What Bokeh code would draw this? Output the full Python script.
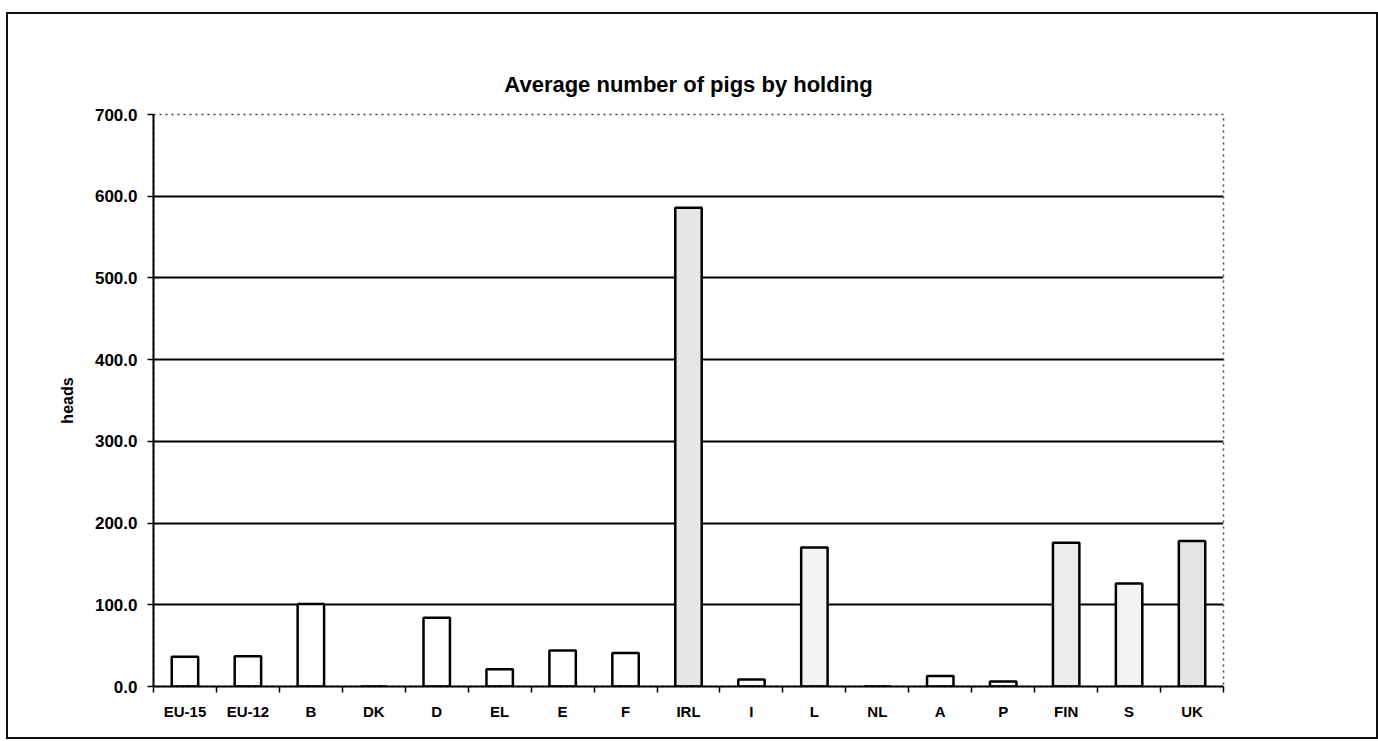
import numpy as np
from bokeh.plotting import figure
from bokeh.models import ColumnDataSource, FixedTicker, Range1d, NumeralTickFormatter
from bokeh.embed import file_html
from bokeh.resources import INLINE

# ---- data ----
categories = ["EU-15", "EU-12", "B", "DK", "D", "EL", "E", "F", "IRL", "I",
              "L", "NL", "A", "P", "FIN", "S", "UK"]
heads = [36.5, 37.0, 101.0, 0.0, 84.0, 21.0, 44.0, 41.0, 586.0, 8.5,
         170.0, 0.0, 13.0, 6.0, 176.0, 126.0, 178.0]
y_ticks = [0, 100, 200, 300, 400, 500, 600, 700]

# bar shading (style)
shade = {"IRL": "#e6e6e6", "FIN": "#ececec", "UK": "#e3e3e3", "L": "#f3f3f3", "S": "#f3f3f3"}
fills = [shade.get(c, "#ffffff") for c in categories]

n = len(categories)
xs = np.arange(n) + 0.5
src = ColumnDataSource(dict(x=xs, top=heads, cat=categories, fill=fills))

FONT = "Liberation Sans"

p = figure(width=1372, height=727, output_backend="svg", toolbar_location=None,
           x_range=Range1d(0, n), y_range=Range1d(0, 700),
           title="Average number of pigs by holding",
           min_border_left=145, min_border_right=157, min_border_top=100,
           min_border_bottom=55,
           styles={"border": "2px solid #111", "margin-left": "6px", "margin-top": "12px"})

p.title.align = "center"
p.title.text_font = FONT
p.title.text_font_style = "bold"
p.title.text_font_size = "22px"
p.title.text_color = "#000000"
p.title.standoff = 36

p.vbar(x="x", top="top", width=0.42, bottom=0, source=src,
       fill_color="fill", line_color="#000000", line_width=2.5)

# x axis: labels at centres, ticks at boundaries
xa = p.xaxis[0]
xa.ticker = FixedTicker(ticks=list(xs), minor_ticks=list(range(n + 1)))
xa.major_label_overrides = {float(x): c for x, c in zip(xs, categories)}
xa.major_tick_line_color = None
xa.minor_tick_line_color = "#000000"
xa.minor_tick_line_width = 1.5
xa.minor_tick_out = 6
xa.minor_tick_in = 0
xa.axis_line_color = "#000000"
xa.axis_line_width = 2
xa.major_label_text_font = FONT
xa.major_label_text_font_style = "bold"
xa.major_label_text_font_size = "15px"
xa.major_label_text_color = "#000000"
xa.major_label_standoff = 10

ya = p.yaxis[0]
ya.ticker = FixedTicker(ticks=y_ticks, minor_ticks=[])
ya.formatter = NumeralTickFormatter(format="0.0")
ya.axis_line_color = "#000000"
ya.axis_line_width = 2
ya.major_tick_line_color = "#000000"
ya.major_tick_line_width = 1.5
ya.major_tick_out = 6
ya.major_tick_in = 0
ya.minor_tick_line_color = None
ya.major_label_text_font = FONT
ya.major_label_text_font_style = "bold"
ya.major_label_text_font_size = "17px"
ya.major_label_text_color = "#000000"
ya.major_label_standoff = 10
ya.axis_label = "heads"
ya.axis_label_text_font = FONT
ya.axis_label_text_font_style = "bold"
ya.axis_label_text_font_size = "16px"
ya.axis_label_text_color = "#000000"
ya.axis_label_standoff = 16

p.xgrid.grid_line_color = None
p.ygrid.ticker = FixedTicker(ticks=y_ticks[1:-1], minor_ticks=[])
p.ygrid.grid_line_color = "#000000"
p.ygrid.grid_line_width = 2

p.outline_line_color = "#444444"
p.outline_line_dash = "dotted"
p.outline_line_width = 1.5

open("out.html", "w").write(file_html(p, INLINE))
